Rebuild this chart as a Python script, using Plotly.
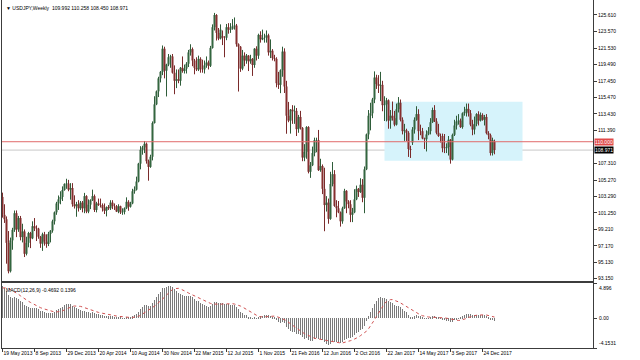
import pandas as pd
import plotly.graph_objects as go

# ---------------- data: USDJPY weekly bars (week starting Sunday) ----------------
first_week = "2013-05-19"

open_ = [
    # 2013
    103.2, 101.0, 100.45, 97.55, 94.05, 97.85, 99.15, 101.2, 99.2, 100.6, 98.25, 98.95, 96.2, 97.55, 98.75, 98.1,
    99.6, 99.35, 99.3, 98.3, 97.45, 98.6, 97.7, 97.4, 98.65, 99.05, 100.2, 101.3, 102.4, 102.9, 103.2, 104.05, 104.8,
    # 2014
    104.85, 104.1, 104.3, 102.3, 102.05, 102.3, 101.8, 102.5, 101.8, 103.3, 101.4, 102.25, 102.8, 103.3, 101.6, 102.4,
    102.2, 102.2, 101.8, 101.5, 101.95, 101.8, 102.5, 102.05, 102.05, 101.4, 102.05, 101.3, 101.35, 101.8, 102.6, 102.0,
    102.4, 103.9, 104.1, 105.1, 107.3, 109.0, 109.3, 109.75, 107.6, 106.9, 108.15, 112.3, 114.6, 116.2, 117.8, 118.6,
    121.45, 118.75, 119.5, 120.4,
    # 2015
    120.5, 118.5, 117.5, 117.7, 117.5, 119.1, 118.7, 119.0, 119.6, 121.0, 121.4, 120.0, 119.1, 118.9, 120.2, 118.9,
    118.9, 119.4, 119.75, 119.35, 121.55, 124.1, 125.6, 123.4, 122.7, 123.0, 122.8, 122.8, 124.1, 123.8, 123.9, 124.2,
    124.3, 122.0, 121.7, 119.0, 120.6, 120.0, 120.6, 119.9, 120.2, 119.45, 121.45, 120.6, 123.15, 122.6, 122.8, 122.8,
    123.1, 121.0, 121.2, 120.3,
    # 2016
    120.2, 117.2, 117.0, 118.8, 121.1, 116.8, 113.2, 112.6, 113.95, 113.75, 113.8, 111.55, 113.05, 111.7, 108.05, 108.75,
    111.8, 106.3, 107.1, 108.6, 110.2, 110.2, 106.5, 107.0, 104.2, 102.2, 102.5, 100.5, 104.8, 106.0, 102.1, 101.8,
    101.3, 100.2, 101.8, 103.95, 102.65, 102.3, 101.0, 101.3, 102.9, 104.2, 103.8, 104.7, 103.1, 106.6, 110.9, 113.2,
    113.5, 115.2, 117.9, 117.1,
    # 2017
    116.9, 117.0, 114.5, 114.6, 115.1, 112.6, 113.2, 112.9, 112.1, 114.0, 114.8, 112.7, 111.3, 111.4, 111.1, 109.1,
    109.9, 111.5, 112.7, 113.4, 111.3, 111.3, 110.4, 110.3, 110.9, 111.3, 112.4, 113.9, 112.5, 111.1, 110.7, 110.7,
    109.2, 109.2, 109.35, 110.25, 107.8, 110.85, 112.0, 112.5, 112.6, 111.8, 113.5, 113.7, 114.05, 113.5, 112.1, 111.5,
    112.2, 113.4, 112.6, 113.3, 112.7,
    # 2018
    113.05, 111.05, 110.8, 108.6, 109.992,
]

high = [
    # 2013
    103.73, 102.3, 100.8, 99.0, 98.2, 99.4, 101.53, 101.54, 100.86, 100.86, 99.9, 99.2, 98.3, 98.9, 98.9, 100.2,
    100.6, 99.7, 99.4, 98.4, 98.8, 98.9, 98.6, 98.9, 99.05, 100.4, 101.4, 102.6, 103.38, 103.9, 104.5, 104.83, 105.44,
    # 2014
    105.3, 104.9, 104.9, 103.4, 102.6, 102.8, 102.7, 102.7, 103.7, 103.4, 102.9, 102.9, 104.1, 103.5, 102.6, 103.0,
    103.0, 102.4, 102.4, 102.0, 102.2, 102.8, 102.8, 102.4, 102.2, 102.3, 102.1, 101.8, 101.9, 103.15, 102.8, 102.6,
    104.2, 104.5, 105.7, 107.4, 109.45, 109.5, 110.09, 109.9, 107.8, 108.4, 112.5, 115.6, 116.3, 118.0, 118.7, 121.85,
    121.7, 119.6, 120.8, 120.7,
    # 2015
    120.8, 119.4, 118.9, 118.9, 119.2, 120.5, 119.5, 119.8, 121.3, 122.0, 121.6, 120.2, 120.4, 120.6, 120.4, 120.1,
    120.0, 120.5, 120.0, 121.8, 124.45, 125.86, 125.7, 124.0, 124.45, 123.7, 123.0, 124.5, 124.6, 124.6, 125.1, 125.3,
    124.5, 122.1, 121.75, 121.3, 121.0, 120.8, 120.65, 120.7, 120.3, 121.5, 121.75, 123.3, 123.6, 123.8, 123.3, 123.7,
    123.3, 122.6, 121.4, 120.7,
    # 2016
    120.4, 118.6, 118.9, 121.7, 121.5, 117.5, 114.9, 114.0, 114.5, 114.45, 114.15, 113.3, 113.8, 111.8, 109.7, 111.9,
    111.9, 107.5, 109.4, 110.5, 110.5, 111.45, 107.9, 107.2, 106.8, 103.3, 103.0, 106.3, 107.5, 106.5, 102.8, 102.7,
    101.4, 102.0, 104.2, 104.0, 102.8, 102.8, 101.85, 104.15, 104.6, 104.3, 105.5, 105.4, 106.95, 111.0, 113.9, 114.8,
    115.4, 118.66, 118.25, 118.2,
    # 2017
    118.6, 117.5, 115.6, 115.4, 115.2, 113.9, 114.95, 113.8, 114.7, 115.5, 115.2, 113.0, 112.2, 111.6, 111.3, 109.5,
    111.8, 113.0, 114.37, 114.0, 112.1, 111.7, 110.5, 111.4, 111.8, 112.9, 114.2, 114.5, 112.9, 112.2, 111.0, 111.0,
    110.95, 109.8, 110.7, 110.3, 111.0, 112.7, 113.2, 113.4, 112.85, 113.6, 114.3, 114.7, 114.7, 113.9, 112.7, 113.1,
    113.5, 113.75, 113.6, 113.5, 113.3,
    # 2018
    113.4, 111.3, 111.0, 110.5, 110.258,
]

low = [
    # 2013
    100.65, 100.0, 94.98, 93.79, 93.9, 96.7, 98.9, 98.25, 98.9, 97.85, 97.6, 95.8, 96.0, 97.0, 96.9, 98.0,
    99.0, 97.77, 98.05, 96.93, 96.56, 97.2, 96.94, 97.15, 97.6, 98.8, 99.8, 101.0, 101.6, 102.3, 102.7, 104.0, 104.2,
    # 2014
    103.9, 102.86, 102.0, 101.77, 100.76, 101.4, 101.6, 101.3, 101.2, 101.2, 101.2, 101.7, 102.7, 101.35, 101.3, 102.1,
    101.9, 101.4, 101.1, 100.8, 101.6, 101.6, 101.7, 101.6, 101.4, 101.2, 101.1, 101.0, 101.05, 101.7, 101.5, 101.9,
    102.3, 103.6, 104.0, 105.0, 106.6, 108.4, 108.6, 107.3, 105.2, 106.8, 107.7, 112.3, 114.5, 115.5, 117.3, 118.2,
    117.8, 115.57, 119.3, 119.1,
    # 2015
    118.4, 115.85, 116.6, 117.2, 116.9, 118.5, 118.4, 118.4, 119.2, 120.6, 119.3, 118.3, 118.7, 118.7, 118.5, 118.5,
    118.4, 119.1, 118.9, 119.2, 121.5, 123.7, 122.46, 122.5, 122.6, 121.9, 120.4, 122.5, 123.3, 123.4, 123.8, 123.8,
    121.7, 116.18, 118.6, 118.8, 119.3, 119.6, 118.7, 119.6, 118.1, 119.1, 120.0, 120.2, 122.2, 122.5, 122.2, 122.2,
    120.6, 120.3, 120.0, 119.9,
    # 2016
    116.7, 116.5, 115.98, 118.0, 116.0, 110.98, 112.4, 111.0, 112.2, 112.2, 110.7, 111.1, 111.5, 107.6, 107.6, 107.9,
    106.1, 105.55, 107.0, 108.2, 108.7, 106.4, 106.3, 103.55, 98.98, 101.4, 99.9, 100.4, 104.5, 102.0, 100.7, 101.2,
    99.55, 99.9, 101.8, 101.2, 101.8, 100.1, 100.1, 101.2, 102.8, 103.2, 103.7, 102.55, 101.2, 106.5, 110.3, 111.4,
    112.9, 114.75, 116.5, 116.0,
    # 2017
    115.0, 113.75, 112.55, 112.5, 111.6, 111.6, 112.6, 111.9, 112.0, 113.6, 112.5, 110.9, 110.1, 110.1, 108.13, 108.0,
    109.6, 111.0, 112.6, 110.2, 110.8, 110.3, 109.1, 108.8, 110.8, 110.9, 112.3, 112.45, 110.9, 110.6, 109.9, 108.7,
    108.6, 108.6, 108.3, 107.3, 107.7, 110.7, 111.5, 112.1, 111.7, 111.6, 113.2, 113.1, 113.1, 111.9, 110.8, 110.9,
    111.9, 112.0, 112.5, 112.6, 112.0,
    # 2018
    110.9, 110.3, 108.3, 108.3, 108.450,
]

close = [
    # 2013
    101.0, 100.45, 97.55, 94.05, 97.85, 99.15, 101.2, 99.2, 100.6, 98.25, 98.95, 96.2, 97.55, 98.75, 98.1, 99.6,
    99.35, 99.3, 98.3, 97.45, 98.6, 97.7, 97.4, 98.65, 99.05, 100.2, 101.3, 102.4, 102.9, 103.2, 104.05, 104.8, 104.85,
    # 2014
    104.1, 104.3, 102.3, 102.05, 102.3, 101.8, 102.5, 101.8, 103.3, 101.4, 102.25, 102.8, 103.3, 101.6, 102.4, 102.2,
    102.2, 101.8, 101.5, 101.95, 101.8, 102.5, 102.05, 102.05, 101.4, 102.05, 101.3, 101.35, 101.8, 102.6, 102.0, 102.4,
    103.9, 104.1, 105.1, 107.3, 109.0, 109.3, 109.75, 107.6, 106.9, 108.15, 112.3, 114.6, 116.2, 117.8, 118.6, 121.45,
    118.75, 119.5, 120.4, 120.5,
    # 2015
    118.5, 117.5, 117.7, 117.5, 119.1, 118.7, 119.0, 119.6, 121.0, 121.4, 120.0, 119.1, 118.9, 120.2, 118.9, 118.9,
    119.4, 119.75, 119.35, 121.55, 124.1, 125.6, 123.4, 122.7, 123.8, 122.8, 122.8, 124.1, 123.8, 123.9, 124.2, 124.3,
    122.0, 121.7, 119.0, 120.6, 120.0, 120.6, 119.9, 120.2, 119.45, 121.45, 120.6, 123.15, 122.6, 122.8, 122.8, 123.1,
    121.0, 121.2, 120.3, 120.2,
    # 2016
    117.2, 117.0, 118.8, 121.1, 116.8, 113.2, 112.6, 113.95, 113.75, 113.8, 111.55, 113.05, 111.7, 108.05, 108.75, 111.8,
    106.3, 107.1, 108.6, 110.2, 110.2, 106.5, 107.0, 104.2, 102.2, 102.5, 100.5, 104.8, 106.0, 102.1, 101.8, 101.3,
    100.2, 101.8, 103.95, 102.65, 102.3, 101.0, 101.3, 102.9, 104.2, 103.8, 104.7, 103.1, 106.6, 110.9, 113.2, 113.5,
    115.2, 117.9, 117.1, 116.9,
    # 2017
    117.0, 114.5, 114.6, 115.1, 112.6, 113.2, 112.9, 112.1, 114.0, 114.8, 112.7, 111.3, 111.4, 111.1, 109.1, 109.0,
    111.5, 112.7, 113.4, 111.3, 111.3, 110.4, 110.3, 110.9, 111.3, 112.4, 113.9, 112.5, 111.1, 110.7, 110.7, 109.2,
    109.2, 109.35, 110.25, 107.8, 110.85, 112.0, 112.5, 112.6, 111.8, 113.5, 113.7, 114.05, 113.5, 112.1, 111.5, 112.2,
    113.4, 112.6, 113.3, 112.7, 113.05,
    # 2018
    111.05, 110.8, 108.6, 110.2, 108.971,
]

# weekly closes before the visible window (Aug 2012 - May 2013), used only to seed the MACD averages
warmup_close = [
    78.5, 79.5, 78.6, 78.3, 78.2, 77.5, 78.1, 77.9, 78.7, 78.4, 79.3, 79.9, 80.4, 79.5, 81.3, 82.4, 82.5,
    82.4, 83.5, 84.2, 85.9, 88.1, 89.2, 90.0, 90.9, 92.7, 92.7, 93.5, 93.4, 93.6, 96.0, 95.3, 94.5, 94.2,
    97.6, 99.6, 99.5, 98.0, 99.0, 101.6, 103.2,
]

x_tick_labels = [
    "19 May 2013", "8 Sep 2013", "29 Dec 2013", "20 Apr 2014", "10 Aug 2014", "30 Nov 2014",
    "22 Mar 2015", "12 Jul 2015", "1 Nov 2015", "21 Feb 2016", "12 Jun 2016", "2 Oct 2016",
    "22 Jan 2017", "14 May 2017", "3 Sep 2017", "24 Dec 2017",
]
price_tick_values = [125.61, 123.57, 121.53, 119.49, 117.45, 115.47, 113.43, 111.39,
                     107.31, 105.27, 103.29, 101.25, 99.21, 97.17, 95.13, 93.15]
macd_tick_values = [4.896, 0.0, -4.1531]
macd_tick_text = ["4.896", "0.00", "-4.1531"]
macd_legend_values = (-0.4692, 0.1396)

hline_price = 110.0          # red horizontal line drawn on the chart
range_box = {"start": "2017-01-15", "end": "2018-05-13", "low": 107.66, "high": 114.91}

# ---------------- derived ----------------
n = len(close)
dates = pd.date_range(first_week, periods=n, freq="W-SUN")
idx = list(range(n))


def week_index(d):
    return (pd.Timestamp(d) - dates[0]).days / 7.0


tick_pos = [week_index(pd.to_datetime(s, format="%d %b %Y")) for s in x_tick_labels]

s_all = pd.Series(warmup_close + close)
macd_all = s_all.ewm(span=12, adjust=False).mean() - s_all.ewm(span=26, adjust=False).mean()
signal_all = macd_all.rolling(9).mean()
macd = macd_all.iloc[-n:].tolist()
signal = signal_all.iloc[-n:].tolist()

FONT = "Liberation Sans, Arial, sans-serif"
AX = "#3c3c3c"

fig = go.Figure()
fig.add_trace(go.Candlestick(
    x=idx, open=open_, high=high, low=low, close=close,
    increasing=dict(line=dict(color="#2f5d3a", width=1), fillcolor="#3f8a4e"),
    decreasing=dict(line=dict(color="#7a2b2b", width=1), fillcolor="#b53a3a"),
    whiskerwidth=0, xaxis="x", yaxis="y", showlegend=False, hoverinfo="skip",
))
fig.add_trace(go.Bar(
    x=idx, y=macd, marker=dict(color="#7a7a7a", line=dict(width=0)), width=0.5,
    xaxis="x2", yaxis="y2", showlegend=False, hoverinfo="skip",
))
fig.add_trace(go.Scatter(
    x=idx, y=signal, mode="lines", line=dict(color="#d05050", width=1, dash="dot"),
    xaxis="x2", yaxis="y2", showlegend=False, hoverinfo="skip",
))

xr = [-0.25, 295.25]
main_bottom = (348 - 281) / 348
macd_top = (348 - 283) / 348

fig.update_layout(
    width=640, height=360,
    margin=dict(l=2, r=47, t=0, b=12, autoexpand=False),
    paper_bgcolor="white", plot_bgcolor="white",
    font=dict(family=FONT, size=5, color="#000000"),
    xaxis=dict(domain=[0, 1], range=xr, showgrid=False, zeroline=False, showticklabels=False,
               rangeslider=dict(visible=False), showline=True, linecolor=AX, linewidth=1,
               anchor="y", fixedrange=True, automargin=False),
    yaxis=dict(domain=[main_bottom, 1], range=[92.85, 127.45], side="right", showgrid=False,
               zeroline=False, tickvals=price_tick_values,
               ticktext=[f"{v:.3f}" for v in price_tick_values],
               ticks="outside", ticklen=3, tickcolor=AX, showline=True, linecolor=AX,
               linewidth=1, mirror=True, anchor="x", tickfont=dict(size=5), automargin=False),
    xaxis2=dict(domain=[0, 1], range=xr, showgrid=False, zeroline=False, anchor="y2",
                tickvals=tick_pos, ticktext=x_tick_labels, ticks="outside", ticklen=3,
                tickcolor=AX, ticklabelposition="outside right", tickangle=0, showline=True,
                linecolor=AX, linewidth=1, mirror=True, tickfont=dict(size=5), automargin=False),
    yaxis2=dict(domain=[0, macd_top], range=[-4.1531, 4.896], side="right", showgrid=False,
                zeroline=False, tickvals=macd_tick_values, showticklabels=False,
                ticks="outside", ticklen=3, tickcolor=AX, showline=True, linecolor=AX,
                linewidth=1, mirror=True, anchor="x2", automargin=False),
    bargap=0,
)

# range rectangle (behind the candles)
fig.add_shape(type="rect", xref="x", yref="y",
              x0=week_index(range_box["start"]), x1=week_index(range_box["end"]),
              y0=range_box["low"], y1=range_box["high"],
              fillcolor="#d6f3fb", line=dict(width=0), layer="below")
# horizontal lines
fig.add_shape(type="line", xref="x domain", yref="y", x0=0, x1=1, y0=hline_price, y1=hline_price,
              line=dict(color="#e06b6b", width=1))
fig.add_shape(type="line", xref="x domain", yref="y", x0=0, x1=1, y0=close[-1], y1=close[-1],
              line=dict(color="#c8c8c8", width=1), layer="below")

# price labels on the scale
fig.add_annotation(xref="paper", yref="y", x=1.0, y=hline_price, xanchor="left", yanchor="middle",
                   text=f"{hline_price:.3f}", showarrow=False, bgcolor="#e04a4a",
                   font=dict(color="white", size=5), borderpad=0, xshift=1)
fig.add_annotation(xref="paper", yref="y", x=1.0, y=close[-1], xanchor="left", yanchor="middle",
                   text=f"{close[-1]:.3f}", showarrow=False, bgcolor="#000000",
                   font=dict(color="white", size=5), borderpad=0, xshift=1)

# MACD scale labels
for v, t in zip(macd_tick_values, macd_tick_text):
    ya = "top" if v == macd_tick_values[0] else ("bottom" if v == macd_tick_values[-1] else "middle")
    fig.add_annotation(xref="paper", yref="y2", x=1.0, y=v, xanchor="left", yanchor=ya,
                       text=t, showarrow=False, font=dict(size=5), xshift=4)

# titles
fig.add_annotation(xref="paper", yref="paper", x=0.0, y=1.0, xanchor="left", yanchor="top",
                   text=f"\u25BC USDJPY,Weekly  {open_[-1]:.3f} {high[-1]:.3f} {low[-1]:.3f} {close[-1]:.3f}",
                   showarrow=False, font=dict(size=5), xshift=2, yshift=-3)
fig.add_annotation(xref="paper", yref="y2 domain", x=0.0, y=1.0, xanchor="left", yanchor="top",
                   text=f"MACD(12,26,9) {macd_legend_values[0]:.4f} {macd_legend_values[1]:.4f}",
                   showarrow=False, font=dict(size=5), xshift=2, yshift=-2)

fig.write_html("out.html")
